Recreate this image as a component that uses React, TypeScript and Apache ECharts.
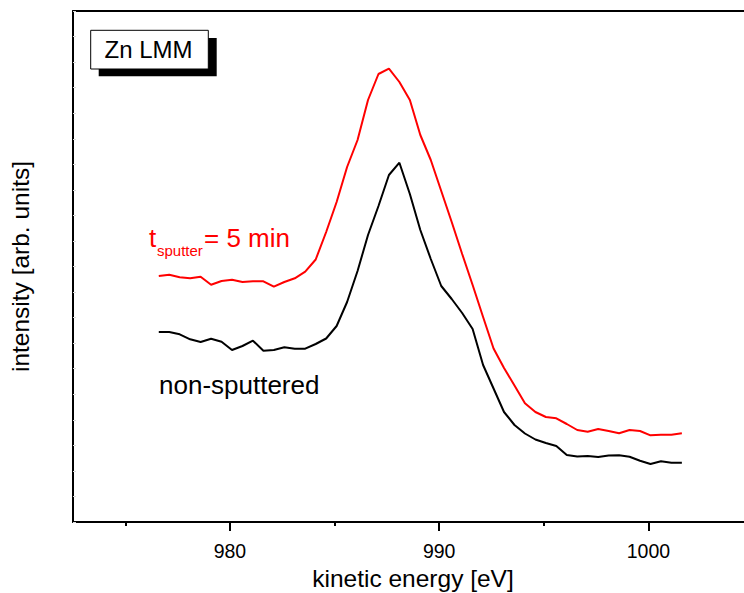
import React, { useEffect, useRef } from "react";
import * as echarts from "echarts";

const energies = [
  976.6, 977.1, 977.6, 978.1, 978.6, 979.1, 979.6, 980.1, 980.6, 981.1,
  981.6, 982.1, 982.6, 983.1, 983.6, 984.1, 984.6, 985.1, 985.6, 986.1,
  986.6, 987.1, 987.6, 988.1, 988.6, 989.1, 989.6, 990.1, 990.6, 991.1,
  991.6, 992.1, 992.6, 993.1, 993.6, 994.1, 994.6, 995.1, 995.6, 996.1,
  996.6, 997.1, 997.6, 998.1, 998.6, 999.1, 999.6, 1000.1, 1000.6, 1001.1,
  1001.6,
];

const sputtered = [
  246, 247.3, 244.7, 243.7, 245.3, 237.3, 241, 242.3, 240, 240.7,
  240.7, 235.3, 240, 243.7, 250.3, 262.5, 290, 320, 355, 382,
  422, 448, 453.3, 440, 422, 387, 362, 331, 300, 268,
  237, 205, 173.5, 154, 136.5, 118.7, 110, 105, 103.7, 98,
  92, 90.3, 93, 91, 88.7, 92, 91, 86.7, 87.3, 87.3,
  88.7,
];

const nonSputtered = [
  190, 190, 187.7, 182.7, 180, 183.3, 180.3, 172, 176, 181.3,
  171.3, 172, 174.7, 173.3, 173.3, 178, 183.5, 196, 220, 251,
  287, 316, 347, 359.3, 328, 292, 263, 236, 223, 209,
  193, 157, 133.5, 110, 97, 88.5, 82.5, 79, 76, 67,
  65.5, 66, 65, 66.5, 66.7, 65.3, 61.3, 58, 60.7, 59.3,
  59.3,
];

const majorTicks = [980, 990, 1000];
const minorTicks = [975, 985, 995, 1005];

const FONT = "'Liberation Sans', Arial, Helvetica, sans-serif";

export default function App() {
  const ref = useRef<HTMLDivElement>(null);

  useEffect(() => {
    if (!ref.current) return;
    const chart = echarts.init(ref.current, null, { renderer: "svg" });
    const xMin = 972.5;
    const xMax = 1005;
    chart.setOption({
      animation: false,
      grid: {
        left: 73,
        top: 11,
        width: 680,
        height: 511,
        outerBoundsMode: "none",
        show: false,
      },
      xAxis: [
        {
          type: "value",
          position: "bottom",
          min: xMin,
          max: xMax,
          axisLine: { show: true, onZero: false, lineStyle: { color: "#000", width: 2 } },
          axisTick: {
            show: true,
            customValues: majorTicks,
            length: 9,
            lineStyle: { color: "#000", width: 2 },
          },
          axisLabel: {
            show: true,
            customValues: majorTicks,
            margin: 19,
            color: "#000",
            fontSize: 19.5,
            fontFamily: FONT,
            formatter: (v: number) => String(v),
          },
          splitLine: { show: false },
          name: "kinetic energy [eV]",
          nameLocation: "middle",
          nameGap: 43,
          nameTextStyle: { color: "#000", fontSize: 24.5, fontFamily: FONT },
        },
        {
          type: "value",
          position: "bottom",
          offset: 0,
          min: xMin,
          max: xMax,
          axisLine: { show: false, onZero: false },
          axisTick: {
            show: true,
            customValues: minorTicks,
            length: 4,
            lineStyle: { color: "#000", width: 2 },
          },
          axisLabel: { show: false },
          splitLine: { show: false },
        },
        {
          type: "value",
          position: "top",
          offset: 0,
          min: xMin,
          max: xMax,
          axisLine: { show: true, onZero: false, lineStyle: { color: "#000", width: 2 } },
          axisTick: { show: false },
          axisLabel: { show: false },
          splitLine: { show: false },
        },
      ],
      yAxis: {
        type: "value",
        min: 0,
        max: 511,
        interval: 25.55,
        axisLine: { show: true, onZero: false, lineStyle: { color: "#000", width: 2 } },
        axisTick: { show: true, inside: true, length: 3, lineStyle: { color: "#d8d8d8", width: 1 } },
        axisLabel: { show: false },
        splitLine: { show: false },
        name: "intensity [arb. units]",
        nameLocation: "middle",
        nameGap: 40,
        nameTextStyle: { color: "#000", fontSize: 24.5, fontFamily: FONT },
      },
      series: [
        {
          name: "t_sputter = 5 min",
          type: "line",
          data: energies.map((e, i) => [e, sputtered[i]]),
          showSymbol: false,
          lineStyle: { color: "#ff0000", width: 2 },
          itemStyle: { color: "#ff0000" },
        },
        {
          name: "non-sputtered",
          type: "line",
          data: energies.map((e, i) => [e, nonSputtered[i]]),
          showSymbol: false,
          lineStyle: { color: "#000", width: 2 },
          itemStyle: { color: "#000" },
        },
      ],
      graphic: [
        {
          type: "rect",
          shape: { x: 98.7, y: 38, width: 118, height: 38.3 },
          style: { fill: "#000" },
        },
        {
          type: "rect",
          shape: { x: 90.7, y: 30.3, width: 117.6, height: 38.7 },
          style: { fill: "#fff", stroke: "#000", lineWidth: 1 },
        },
        {
          type: "text",
          x: 104.5,
          y: 49.5,
          style: { text: "Zn LMM", font: `24px ${FONT}`, fill: "#000", verticalAlign: "middle" },
        },
        {
          type: "text",
          x: 149,
          y: 238,
          style: { text: "t", font: `26px ${FONT}`, fill: "#ff0000", verticalAlign: "middle" },
        },
        {
          type: "text",
          x: 157,
          y: 250,
          style: { text: "sputter", font: `15px ${FONT}`, fill: "#ff0000", verticalAlign: "middle" },
        },
        {
          type: "text",
          x: 204,
          y: 238,
          style: { text: "= 5 min", font: `26px ${FONT}`, fill: "#ff0000", verticalAlign: "middle" },
        },
        {
          type: "text",
          x: 159,
          y: 384.5,
          style: { text: "non-sputtered", font: `26px ${FONT}`, fill: "#000", verticalAlign: "middle" },
        },
      ],
    });
    return () => chart.dispose();
  }, []);

  return (
    <div
      style={{
        position: "fixed",
        left: 0,
        top: 0,
        width: 744,
        height: 593,
        overflow: "hidden",
        background: "#fff",
      }}
    >
      <div ref={ref} style={{ width: 790, height: 593 }} />
    </div>
  );
}
